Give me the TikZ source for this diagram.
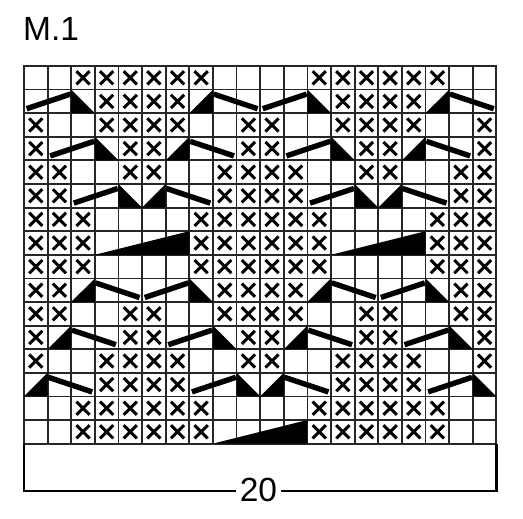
\documentclass[tikz,border=0pt]{standalone}
\usepackage{fontspec}
\setmainfont{Liberation Sans}
\usetikzlibrary{positioning}

\tikzset{
    gridline/.style={line width=1.8pt, draw=black!85},
    cross/.style={line width=3pt},
    slopebar/.style={line width=5.4pt},
    frameline/.style={line width=2.4pt, line join=miter},
    label/.style={inner sep=0pt, font=\fontsize{33.5}{36}\selectfont},
}

% symbols, cell (c,r) is [c-1,c] x [r-1,r]
\newcommand{\knitx}[2]{\draw[cross] ({#1-0.78},{#2-0.78}) -- ({#1-0.22},{#2-0.22})
    ({#1-0.78},{#2-0.22}) -- ({#1-0.22},{#2-0.78});}
\newcommand{\barup}[2]{\draw[slopebar] ({#1-0.89},{#2-0.19}) -- ({#1+0.97},{#2-0.81});}
\newcommand{\bardown}[2]{\draw[slopebar] ({#1-0.97},{#2-0.81}) -- ({#1+0.89},{#2-0.19});}
\newcommand{\trileft}[2]{\fill ({#1-1},{#2-1}) -- ({#1-1},#2) -- (#1,#2) -- cycle;}
\newcommand{\triright}[2]{\fill (#1,{#2-1}) -- (#1,#2) -- ({#1-1},#2) -- cycle;}
\newcommand{\slopewedge}[2]{\fill ({#1-1},#2) -- ({#1+3},#2) -- ({#1+3},{#2-1}) -- cycle;}

\begin{document}
\begin{tikzpicture}[x=1pt, y=-1pt]
    \useasboundingbox (0,0) rectangle (523,519);
    \fill[white] (0,0) rectangle (523,519);

    \node[label, anchor=base west] (title) at (23,40.7) {M.1};

    \begin{scope}[shift={(24pt,-66pt)}, x=23.62pt, y=-23.6pt]
        \coordinate (nw) at (0,0);
        \coordinate (sw) at (0,16);
        \coordinate (se) at (20,16);

        \foreach \c in {1,...,19} \draw[gridline] (\c,0) -- (\c,16);
        \foreach \r in {1,...,15} \draw[gridline] (0,\r) -- (20,\r);
        \draw[gridline, line width=2pt] (nw) rectangle (se);

        \foreach \o in {0,10} {
            \foreach \r/\cols in {1/{3,...,8}, 2/{4,...,7}, 3/{1,4,5,6,7,10},
                4/{1,5,6,10}, 5/{1,2,5,6,9,10}, 6/{1,2,9,10}, 7/{1,2,3,8,9,10},
                8/{1,2,3,8,9,10}, 9/{1,2,3,8,9,10}, 10/{1,2,9,10},
                11/{1,2,5,6,9,10}, 12/{1,5,6,10}, 13/{1,4,5,6,7,10},
                14/{4,...,7}, 15/{3,...,8}, 16/{3,...,8}}
                \foreach \c in \cols {\knitx{\c+\o}{\r}}
            \foreach \c/\r in {1/2, 2/4, 3/6, 6/10, 7/12, 8/14} {\barup{\c+\o}{\r}}
            \foreach \c/\r in {9/2, 8/4, 7/6, 4/10, 3/12, 2/14} {\bardown{\c+\o}{\r}}
            \foreach \c/\r in {3/2, 4/4, 5/6, 8/10, 9/12, 10/14} {\trileft{\c+\o}{\r}}
            \foreach \c/\r in {8/2, 7/4, 6/6, 3/10, 2/12, 1/14} {\triright{\c+\o}{\r}}
            \slopewedge{4+\o}{8}
        }
        \slopewedge{9}{16}

        \coordinate (bl) at (0,18);
        \coordinate (br) at (20,18);
    \end{scope}

    \node[label] (count) at (258.5,490) {20};
    \draw[frameline] (sw) -- (bl |- 0,491) -- ([xshift=-4pt]count.west |- 0,491);
    \draw[frameline] (se) -- (br |- 0,491) -- ([xshift=4pt]count.east |- 0,491);
\end{tikzpicture}
\end{document}
